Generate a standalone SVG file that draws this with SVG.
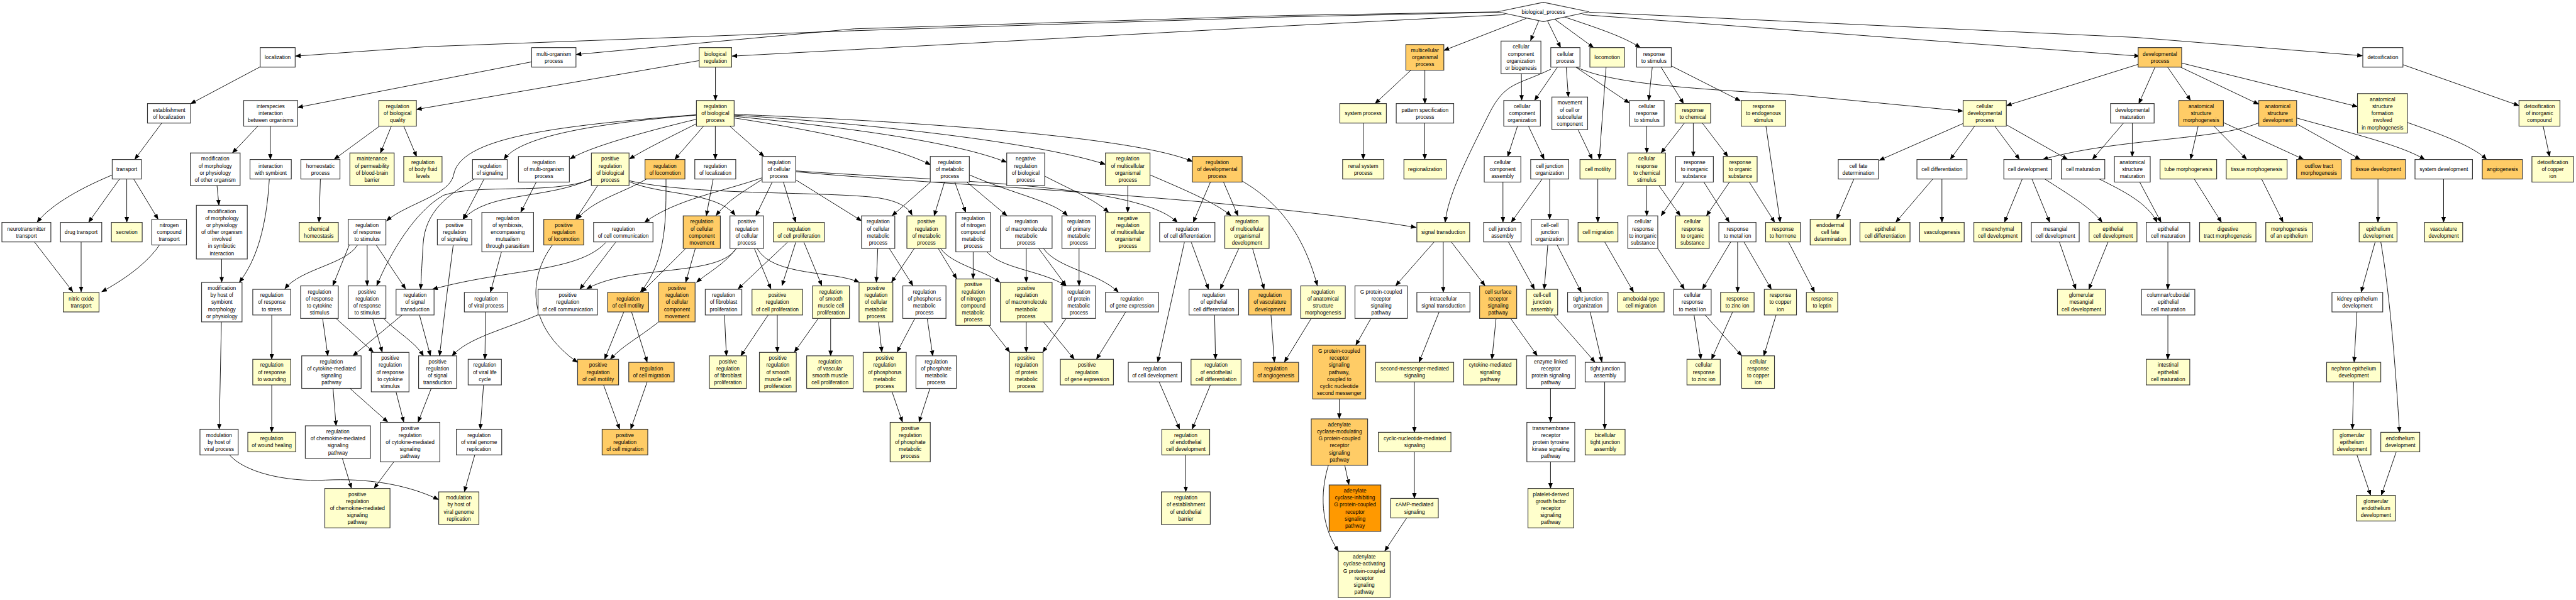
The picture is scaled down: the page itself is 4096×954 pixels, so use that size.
<svg xmlns="http://www.w3.org/2000/svg" width="4096" height="954" viewBox="0 0 4096 954">
<style>
.w{fill:#ffffff}.y{fill:#ffffcc}.o{fill:#ffcc66}.d{fill:#ff9900}
.w,.y,.o,.d{stroke:#333333;stroke-width:1.8}
text{font-family:"Liberation Sans",Arial,sans-serif;font-size:13px;text-anchor:middle;fill:#000000}
#edges path{fill:none;stroke:#000000;stroke-width:1.4;marker-end:url(#ah)}
</style>
<defs>
<marker id="ah" markerUnits="userSpaceOnUse" markerWidth="14" markerHeight="11" refX="13" refY="5.5" orient="auto" viewBox="0 0 14 11"><path d="M0,0 L14,5.5 L0,11 z" fill="#000000"/></marker>
</defs>
<rect x="0" y="0" width="4096" height="954" style="fill:#ffffff;stroke:none"/>
<g transform="scale(0.6469)">
<g id="edges">
<path d="M3690,30 L3160,41.5 L2100,75.5 L1050,114.7 L726,138"/>
<path d="M3690,29 L3160,38 L2100,70.8 L1416,134"/>
<path d="M3700,36 L3160,63.7 L2100,121.8 L1799,138"/>
<path d="M3752,45 L3549,124"/>
<path d="M3782,52 L3762,100"/>
<path d="M3804,52 L3836,117"/>
<path d="M3821,47 L3917,117"/>
<path d="M3846,42 C3930,70 3990,90 4032,117"/>
<path d="M3906,30 L4200,43.4 L5250,92 L5807,137"/>
<path d="M3890,36 L4200,59 L5259,138"/>
<path d="M640,164 L468.5,255"/>
<path d="M1307,152 L731.5,264"/>
<path d="M1718.6,149 L1023.5,269"/>
<path d="M1758.5,165 L1758.5,246.8"/>
<path d="M3467.7,172.7 L3379.8,254.8"/>
<path d="M3502.3,172.7 L3502.3,254.8"/>
<path d="M3739.5,181.2 L3740.2,246.8"/>
<path d="M3828,165.2 L3771.9,246.8"/>
<path d="M3849.7,165.2 L3855,238.3"/>
<path d="M3873.3,165.2 L4005.2,253.4"/>
<path d="M3812,170 C3730,210 3700,200 3660,280 C3600,400 3560,480 3552,546.5"/>
<path d="M3877,166 C3960,205 4150,218 4400,232 L4825,273"/>
<path d="M3947.7,165.2 L3930.8,391.7"/>
<path d="M4061.2,165.2 L4052.5,246.8"/>
<path d="M4082.9,165.2 L4138.3,254.8"/>
<path d="M4108,162 L4278,248"/>
<path d="M5256,158 L4931.5,259.6"/>
<path d="M5297,165.2 L5257,254.8"/>
<path d="M5328,165.2 L5384.4,246.8"/>
<path d="M5360,165.2 L5552,256.3"/>
<path d="M5362.4,155 L5794.6,262"/>
<path d="M5906.3,159 L6191.7,259.6"/>
<path d="M397.5,302.5 L331.2,391.7"/>
<path d="M634,310 L571.2,376.1"/>
<path d="M664.5,310 L664.5,391.7"/>
<path d="M933,310 L821.3,391.7"/>
<path d="M962,310 L935,376.1"/>
<path d="M992.4,310 L1024.1,385.1"/>
<path d="M1712,283 C1500,300 1280,330 1239,392"/>
<path d="M1712,293 C1600,320 1450,360 1401,391"/>
<path d="M1712,304 C1640,340 1580,370 1547,391"/>
<path d="M1729.4,310 L1658.4,391.7"/>
<path d="M1758.2,310 L1758.2,391.7"/>
<path d="M1793.6,310 L1878.1,384.6"/>
<path d="M1805,281 C2300,300 2800,340 2931,397"/>
<path d="M1805,283 C2150,305 2550,350 2717,404"/>
<path d="M1805,286 C2100,315 2350,350 2474.5,399"/>
<path d="M1805,290 C2000,320 2200,360 2287,405"/>
<path d="M1712,282 C1350,310 1130,340 1115,430 C1105,480 1000,500 950,543"/>
<path d="M3730,310 L3705.7,385.1"/>
<path d="M3757,310 L3795.6,391.7"/>
<path d="M3878.7,318.6 L3913.9,391.7"/>
<path d="M4047.8,310 L4047.8,376.1"/>
<path d="M4140.3,302.5 L4082.9,376.1"/>
<path d="M4162,302.5 L4162,385.1"/>
<path d="M4184.3,302.5 L4247.3,385.1"/>
<path d="M4340.6,310 L4375.8,546.5"/>
<path d="M4825.3,303.5 L4619.1,394"/>
<path d="M4853.7,310 L4793.6,391.7"/>
<path d="M4903,310 L4963.9,391.7"/>
<path d="M4933.5,307.7 L5082.2,391.7"/>
<path d="M5219.5,302.5 L5143,391.7"/>
<path d="M5241.1,302.5 L5241.1,385.1"/>
<path d="M5552,302 C5450,345 5200,340 5021,392"/>
<path d="M5403,310 L5384.4,391.7"/>
<path d="M5441.7,310 L5522.3,391.7"/>
<path d="M5465.1,301.2 L5662.3,391.7"/>
<path d="M5645,304.4 L5801.5,391.7"/>
<path d="M5645,290 C5750,320 5900,355 5960,392"/>
<path d="M5917,301 C6000,330 6080,360 6112,392"/>
<path d="M6251,310 L6266.9,385.1"/>
<path d="M3350.8,302.5 L3350.8,391.7"/>
<path d="M3502,302.5 L3502,391.7"/>
<path d="M276,430 C180,470 120,510 91,546.5"/>
<path d="M294,439.8 L217.7,546.5"/>
<path d="M311.6,439.8 L311.6,546.5"/>
<path d="M328.5,439.8 L388.7,539"/>
<path d="M533.4,455.9 L538.1,504.5"/>
<path d="M662,440 C655,560 630,640 588,694"/>
<path d="M787.5,439.8 L784.2,546.5"/>
<path d="M1190,439.8 L1137.9,539"/>
<path d="M1166,440 C1100,480 1045,520 1040,600 C1037,650 1035,690 1034,711"/>
<path d="M1454,441 C1350,480 1180,450 1090,480 C1020,520 960,620 926,702"/>
<path d="M1454,439 C1350,490 1200,470 1138,539"/>
<path d="M1469.1,455.9 L1415,539"/>
<path d="M1546,446 C1620,480 1760,470 1807,529"/>
<path d="M1546,444 C1700,480 2000,470 2150,485 C2200,492 2230,505 2242,529"/>
<path d="M1589,440 C1530,475 1460,490 1418,539"/>
<path d="M1637,440 C1637,530 1640,640 1574,718"/>
<path d="M1753,439.8 L1736.1,530.5"/>
<path d="M1318.4,447 L1279.8,522"/>
<path d="M1873,437 C1780,470 1660,490 1584,547"/>
<path d="M1873,441 C1830,470 1790,490 1760,530"/>
<path d="M1898.4,447 L1857.8,530.5"/>
<path d="M1925.4,447 L1955.9,546.5"/>
<path d="M1955.9,442 L2117.6,542.7"/>
<path d="M1956,420 C2300,445 2800,450 2894,547"/>
<path d="M1956,422 C2300,455 3000,480 3481,559"/>
<path d="M2287.9,447 L2192.6,530.5"/>
<path d="M2321.7,447 L2296,530.5"/>
<path d="M2346.7,447 L2373.8,522"/>
<path d="M2375.8,447 L2475.2,530.5"/>
<path d="M2383,430 C2500,480 2590,495 2624,530.5"/>
<path d="M2568,433 C2640,470 2690,490 2725,522"/>
<path d="M2772,456 L2772,522"/>
<path d="M2827,430 C2920,470 2990,500 3026,530.5"/>
<path d="M2975.4,447 L2932.8,546.5"/>
<path d="M3007.2,447 L3043,530.5"/>
<path d="M3053,445 C3130,490 3200,560 3238,702"/>
<path d="M3694.2,447 L3694.2,546.5"/>
<path d="M3790.8,439.8 L3714.5,546.5"/>
<path d="M3809,439.8 L3809,539"/>
<path d="M3927.4,439.8 L3927.4,546.5"/>
<path d="M4047.8,456 L4047.8,530.5"/>
<path d="M4077.5,456 L4130.2,530.5"/>
<path d="M4140.3,447 L4082.9,530.5"/>
<path d="M4187.7,447 L4250.7,546.5"/>
<path d="M4251.4,447 L4194.4,530.5"/>
<path d="M4299.4,447 L4362.2,546.5"/>
<path d="M4556.9,439.8 L4514.3,539"/>
<path d="M4751,439.8 L4659.7,546.5"/>
<path d="M4773.2,439.8 L4773.2,546.5"/>
<path d="M4970.7,439.8 L4926.7,546.5"/>
<path d="M4994.4,439.8 L5038.3,546.5"/>
<path d="M5026,440 C5080,475 5140,510 5167,546.5"/>
<path d="M5160,440 C5220,470 5280,500 5302,546.5"/>
<path d="M5259,447 L5312,546.5"/>
<path d="M5393.4,439.8 L5460.3,546.5"/>
<path d="M5558.9,439.8 L5611.9,546.5"/>
<path d="M5845,439.8 L5845,546.5"/>
<path d="M6006.3,439.8 L6006.3,546.5"/>
<path d="M84.5,594.6 L179.1,717.3"/>
<path d="M199.4,594.6 L199.4,717.3"/>
<path d="M392,602 C360,650 300,690 250,717.3"/>
<path d="M544.9,636.6 L544.9,693.8"/>
<path d="M879,602 C850,650 740,660 700,710"/>
<path d="M858.5,602.2 L818,702.2"/>
<path d="M902.5,602.2 L902.5,702.2"/>
<path d="M924.8,602.2 L997.1,710.3"/>
<path d="M1114,602 L1097,735 L1080.4,874.7"/>
<path d="M1232.5,619.2 L1205.5,718.3"/>
<path d="M1358,602 C1300,680 1290,800 1420,891"/>
<path d="M1513.1,595.6 L1425.2,711.2"/>
<path d="M1489,596 C1420,670 1250,660 1063,711"/>
<path d="M1709.1,610.7 L1685.4,693.8"/>
<path d="M1685.4,610.7 L1577.3,718.3"/>
<path d="M1810,611 C1780,650 1740,670 1712,694"/>
<path d="M1807,614 C1760,680 1550,650 1442,710"/>
<path d="M1854.4,611.2 L1895,710.3"/>
<path d="M1861,611 C1900,680 2050,665 2112,694"/>
<path d="M1935.6,595.6 L1813.9,710.3"/>
<path d="M1955.9,595.6 L1922.1,702.2"/>
<path d="M1976.1,595.6 L2020.1,702.2"/>
<path d="M2157.5,610.7 L2154.1,693.8"/>
<path d="M2185.9,610.7 L2244,702.2"/>
<path d="M2247.4,610.7 L2191.3,693.8"/>
<path d="M2306.2,610.7 L2351.5,685.3"/>
<path d="M2312,611 C2340,650 2420,665 2458,694"/>
<path d="M2392,619.2 L2392,685.3"/>
<path d="M2426,619 C2460,660 2560,665 2620,702"/>
<path d="M2522.5,610.7 L2522.5,693.8"/>
<path d="M2553,610.7 L2620.5,702.2"/>
<path d="M2565,611 C2600,660 2700,670 2749,718.3"/>
<path d="M2652.3,610.7 L2652.3,702.2"/>
<path d="M2911.2,595.6 L2845.6,890.3"/>
<path d="M2928.1,595.6 L2970.7,711.2"/>
<path d="M3045,610.7 L2999.1,711.2"/>
<path d="M3078.8,610.7 L3107.2,711.2"/>
<path d="M3525.2,594.6 L3430.5,702.2"/>
<path d="M3547.5,594.6 L3547.5,718.3"/>
<path d="M3567.1,594.6 L3650.2,702.2"/>
<path d="M3707.7,594.6 L3771.9,711.2"/>
<path d="M3804.4,602.2 L3795.6,711.2"/>
<path d="M3827.4,602.2 L3886.8,718.3"/>
<path d="M3944.3,594.6 L4015.3,718.3"/>
<path d="M4074.8,610.7 L4140.3,711.2"/>
<path d="M4254.1,594.6 L4184.3,711.2"/>
<path d="M4271,594.6 L4271,718.3"/>
<path d="M4286.5,594.6 L4354.1,711.2"/>
<path d="M4396,594.6 L4460.3,718.3"/>
<path d="M5061.9,594.6 L5102.5,711.2"/>
<path d="M5181.6,594.6 L5134.2,711.2"/>
<path d="M5328.6,594.6 L5328.6,711.2"/>
<path d="M5838.1,594.6 L5803.6,718.3"/>
<path d="M5852,595 C5870,700 5885,850 5898,1062.5"/>
<path d="M667.9,774.2 L667.9,883.2"/>
<path d="M793,782.7 L805.8,874.7"/>
<path d="M826.1,782.7 L918,865.7"/>
<path d="M916,782.7 L939.6,865.7"/>
<path d="M943,783 C980,820 1020,840 1041,875"/>
<path d="M988.3,774.2 L867.3,874.7"/>
<path d="M1031,774.2 L1058.1,874.7"/>
<path d="M1322,774 C1240,810 1150,830 1111,875"/>
<path d="M1193.3,766.6 L1192,883.2"/>
<path d="M1533.4,766.6 L1486,883.2"/>
<path d="M1552.3,766.6 L1590.8,890.3"/>
<path d="M1618,792 C1570,830 1530,850 1500,883"/>
<path d="M1780.8,774.2 L1785.5,874.7"/>
<path d="M1888.2,774.2 L1820.7,874.7"/>
<path d="M1910.6,774.2 L1910.6,865.7"/>
<path d="M2011.3,782.7 L1952.5,865.7"/>
<path d="M2041.7,782.7 L2041.7,874.7"/>
<path d="M2159.5,791.6 L2167.6,865.7"/>
<path d="M2248.7,782.7 L2204.8,865.7"/>
<path d="M2279.1,782.7 L2292.7,874.7"/>
<path d="M2430,799.7 L2482,865.7"/>
<path d="M2522.5,791.6 L2522.5,865.7"/>
<path d="M2565.1,791.6 L2640.8,883.2"/>
<path d="M2620.5,782.7 L2563,865.7"/>
<path d="M2767.2,766.6 L2694.9,883.2"/>
<path d="M2985.6,774.2 L2987.6,883.2"/>
<path d="M3124.1,774.2 L3132.3,890.3"/>
<path d="M3223,782.7 L3156.8,890.3"/>
<path d="M3369.7,782.7 L3332.5,848.3"/>
<path d="M3537.4,766.6 L3488,890.3"/>
<path d="M3677.3,782.7 L3667.1,883.2"/>
<path d="M3713.1,782.7 L3778.7,874.7"/>
<path d="M3819.2,774.2 L3920.6,890.3"/>
<path d="M3908.5,766.6 L3937.5,890.3"/>
<path d="M4164,774.2 L4180.9,883.2"/>
<path d="M4191.1,774.2 L4281.1,874.7"/>
<path d="M4258.8,766.6 L4206.8,883.2"/>
<path d="M4365.6,774.2 L4335.2,874.7"/>
<path d="M5328.6,774.2 L5328.6,883.2"/>
<path d="M5793.3,766.6 L5786.4,890.3"/>
<path d="M667.9,945.5 L667.9,1062.5"/>
<path d="M818.6,954.5 L826.1,1046.5"/>
<path d="M859.9,954.5 L953.2,1037.5"/>
<path d="M973.4,963 L992.4,1037.5"/>
<path d="M1060,954.5 L1027.6,1037.5"/>
<path d="M544.2,791.6 L538.8,1055"/>
<path d="M1188.6,945.5 L1180.5,1055"/>
<path d="M1483.3,945.5 L1523.2,1055"/>
<path d="M1590.8,938.4 L1550.2,1055"/>
<path d="M2192.6,963 L2218.3,1037.5"/>
<path d="M2285.9,954.5 L2258.9,1037.5"/>
<path d="M2849,938.4 L2899.7,1055"/>
<path d="M2975.4,945.5 L2930.1,1055"/>
<path d="M3292,980.4 L3292,1029"/>
<path d="M3476.5,938.4 L3476.5,1062.5"/>
<path d="M3811.1,954.5 L3811.1,1037.5"/>
<path d="M3944.3,938.4 L3944.3,1055"/>
<path d="M5785,938.4 L5782.2,1055"/>
<path d="M841.6,1126.7 L863.9,1200.3"/>
<path d="M968,1135.2 L919.4,1200.3"/>
<path d="M564,1118 C600,1160 700,1185 800,1180 C900,1175 1000,1190 1078,1228"/>
<path d="M1167,1118.2 L1141.3,1208.8"/>
<path d="M2914.6,1118.2 L2914.6,1208.8"/>
<path d="M3305.5,1143.7 L3315.6,1191.4"/>
<path d="M3265,1144 C3245,1210 3245,1290 3290,1355"/>
<path d="M3476.5,1110.7 L3476.5,1224.9"/>
<path d="M3457.6,1273 L3403.5,1354.7"/>
<path d="M3811.1,1135.2 L3811.1,1200.3"/>
<path d="M5793.3,1118.2 L5827,1217.3"/>
<path d="M5889.8,1110.7 L5853.2,1217.3"/>
</g>
<g id="bp"><polygon class="w" points="3681,29 3793.6,5.7 3906,29 3793.6,53"/><text x="3793.6" y="33.6">biological_process</text></g>
<g id="loc" transform="translate(682.5,141)"><rect class="w" x="-43" y="-24" width="86" height="48"/><text><tspan x="0" y="4.6">localization</tspan></text></g>
<g id="mop" transform="translate(1361.3,141)"><rect class="w" x="-54.4" y="-24" width="108.8" height="48"/><text><tspan x="0" y="-4.05">multi-organism</tspan><tspan x="0" y="13.25">process</tspan></text></g>
<g id="breg" transform="translate(1758.5,141)"><rect class="y" x="-39.9" y="-24" width="79.8" height="48"/><text><tspan x="0" y="-4.05">biological</tspan><tspan x="0" y="13.25">regulation</tspan></text></g>
<g id="mcop" transform="translate(3502.3,141)"><rect class="o" x="-46.7" y="-31.5" width="93.3" height="63"/><text><tspan x="0" y="-12.7">multicellular</tspan><tspan x="0" y="4.6">organismal</tspan><tspan x="0" y="21.9">process</tspan></text></g>
<g id="ccob" transform="translate(3738.5,141)"><rect class="w" x="-49" y="-40" width="98" height="80"/><text><tspan x="0" y="-21.35">cellular</tspan><tspan x="0" y="-4.05">component</tspan><tspan x="0" y="13.25">organization</tspan><tspan x="0" y="30.55">or biogenesis</tspan></text></g>
<g id="cp" transform="translate(3847.7,141)"><rect class="w" x="-35.9" y="-24" width="71.7" height="48"/><text><tspan x="0" y="-4.05">cellular</tspan><tspan x="0" y="13.25">process</tspan></text></g>
<g id="locom" transform="translate(3950.5,141)"><rect class="y" x="-42.6" y="-24" width="85.1" height="48"/><text><tspan x="0" y="4.6">locomotion</tspan></text></g>
<g id="rs" transform="translate(4065.4,141)"><rect class="w" x="-42.6" y="-24" width="85.2" height="48"/><text><tspan x="0" y="-4.05">response</tspan><tspan x="0" y="13.25">to stimulus</tspan></text></g>
<g id="dp" transform="translate(5309,141)"><rect class="o" x="-53.5" y="-24" width="106.9" height="48"/><text><tspan x="0" y="-4.05">developmental</tspan><tspan x="0" y="13.25">process</tspan></text></g>
<g id="detox" transform="translate(5857,141)"><rect class="w" x="-49.3" y="-24" width="98.6" height="48"/><text><tspan x="0" y="4.6">detoxification</tspan></text></g>
<g id="eloc" transform="translate(415.5,278.5)"><rect class="w" x="-53" y="-24" width="106.1" height="48"/><text><tspan x="0" y="-4.05">establishment</tspan><tspan x="0" y="13.25">of localization</tspan></text></g>
<g id="iibo" transform="translate(665.3,278.5)"><rect class="w" x="-66.3" y="-31.5" width="132.5" height="63"/><text><tspan x="0" y="-12.7">interspecies</tspan><tspan x="0" y="4.6">interaction</tspan><tspan x="0" y="21.9">between organisms</tspan></text></g>
<g id="rbq" transform="translate(977.3,278.5)"><rect class="y" x="-46.3" y="-31.5" width="92.5" height="63"/><text><tspan x="0" y="-12.7">regulation</tspan><tspan x="0" y="4.6">of biological</tspan><tspan x="0" y="21.9">quality</tspan></text></g>
<g id="rbp" transform="translate(1758.2,278.5)"><rect class="y" x="-46.4" y="-31.5" width="92.7" height="63"/><text><tspan x="0" y="-12.7">regulation</tspan><tspan x="0" y="4.6">of biological</tspan><tspan x="0" y="21.9">process</tspan></text></g>
<g id="sysp" transform="translate(3350.5,278.5)"><rect class="y" x="-57.2" y="-24" width="114.3" height="48"/><text><tspan x="0" y="4.6">system process</tspan></text></g>
<g id="pspec" transform="translate(3502.6,278.5)"><rect class="w" x="-70.7" y="-24" width="141.3" height="48"/><text><tspan x="0" y="-4.05">pattern specification</tspan><tspan x="0" y="13.25">process</tspan></text></g>
<g id="cco" transform="translate(3741.2,278.5)"><rect class="w" x="-45" y="-31.5" width="90" height="63"/><text><tspan x="0" y="-12.7">cellular</tspan><tspan x="0" y="4.6">component</tspan><tspan x="0" y="21.9">organization</tspan></text></g>
<g id="mocsc" transform="translate(3858.5,278.5)"><rect class="w" x="-44" y="-40" width="87.9" height="80"/><text><tspan x="0" y="-21.35">movement</tspan><tspan x="0" y="-4.05">of cell or</tspan><tspan x="0" y="13.25">subcellular</tspan><tspan x="0" y="30.55">component</tspan></text></g>
<g id="crs" transform="translate(4047.8,278.5)"><rect class="w" x="-42.6" y="-31.5" width="85.2" height="63"/><text><tspan x="0" y="-12.7">cellular</tspan><tspan x="0" y="4.6">response</tspan><tspan x="0" y="21.9">to stimulus</tspan></text></g>
<g id="rchem" transform="translate(4161,278.5)"><rect class="y" x="-43.6" y="-24" width="87.2" height="48"/><text><tspan x="0" y="-4.05">response</tspan><tspan x="0" y="13.25">to chemical</tspan></text></g>
<g id="res" transform="translate(4334.6,278.5)"><rect class="y" x="-54.8" y="-31.5" width="109.5" height="63"/><text><tspan x="0" y="-12.7">response</tspan><tspan x="0" y="4.6">to endogenous</tspan><tspan x="0" y="21.9">stimulus</tspan></text></g>
<g id="cdp" transform="translate(4878.4,278.5)"><rect class="y" x="-53.1" y="-31.5" width="106.2" height="63"/><text><tspan x="0" y="-12.7">cellular</tspan><tspan x="0" y="4.6">developmental</tspan><tspan x="0" y="21.9">process</tspan></text></g>
<g id="dmat" transform="translate(5241.3,278.5)"><rect class="w" x="-53.6" y="-24" width="107.1" height="48"/><text><tspan x="0" y="-4.05">developmental</tspan><tspan x="0" y="13.25">maturation</tspan></text></g>
<g id="asm" transform="translate(5410.3,278.5)"><rect class="o" x="-54.8" y="-31.5" width="109.6" height="63"/><text><tspan x="0" y="-12.7">anatomical</tspan><tspan x="0" y="4.6">structure</tspan><tspan x="0" y="21.9">morphogenesis</tspan></text></g>
<g id="asd" transform="translate(5598.5,278.5)"><rect class="o" x="-46.5" y="-31.5" width="93" height="63"/><text><tspan x="0" y="-12.7">anatomical</tspan><tspan x="0" y="4.6">structure</tspan><tspan x="0" y="21.9">development</tspan></text></g>
<g id="asfim" transform="translate(5856,278.5)"><rect class="y" x="-61.4" y="-48.5" width="122.7" height="97"/><text><tspan x="0" y="-30">anatomical</tspan><tspan x="0" y="-12.7">structure</tspan><tspan x="0" y="4.6">formation</tspan><tspan x="0" y="21.9">involved</tspan><tspan x="0" y="39.2">in morphogenesis</tspan></text></g>
<g id="doic" transform="translate(6242,278.5)"><rect class="y" x="-50.4" y="-31.5" width="100.7" height="63"/><text><tspan x="0" y="-12.7">detoxification</tspan><tspan x="0" y="4.6">of inorganic</tspan><tspan x="0" y="21.9">compound</tspan></text></g>
<g id="transport" transform="translate(311.7,416)"><rect class="w" x="-35.9" y="-24" width="71.7" height="48"/><text><tspan x="0" y="4.6">transport</tspan></text></g>
<g id="mmpoo" transform="translate(529,416)"><rect class="w" x="-61.2" y="-40" width="122.4" height="80"/><text><tspan x="0" y="-21.35">modification</tspan><tspan x="0" y="-4.05">of morphology</tspan><tspan x="0" y="13.25">or physiology</tspan><tspan x="0" y="30.55">of other organism</tspan></text></g>
<g id="iws" transform="translate(665.3,416)"><rect class="w" x="-50.8" y="-24" width="101.5" height="48"/><text><tspan x="0" y="-4.05">interaction</tspan><tspan x="0" y="13.25">with symbiont</tspan></text></g>
<g id="homeo" transform="translate(787.6,416)"><rect class="w" x="-48" y="-24" width="96" height="48"/><text><tspan x="0" y="-4.05">homeostatic</tspan><tspan x="0" y="13.25">process</tspan></text></g>
<g id="mpbbb" transform="translate(914.4,416)"><rect class="y" x="-54.4" y="-40" width="108.8" height="80"/><text><tspan x="0" y="-21.35">maintenance</tspan><tspan x="0" y="-4.05">of permeability</tspan><tspan x="0" y="13.25">of blood-brain</tspan><tspan x="0" y="30.55">barrier</tspan></text></g>
<g id="rbfl" transform="translate(1039.5,416)"><rect class="y" x="-47.1" y="-31.5" width="94.1" height="63"/><text><tspan x="0" y="-12.7">regulation</tspan><tspan x="0" y="4.6">of body fluid</tspan><tspan x="0" y="21.9">levels</tspan></text></g>
<g id="rsig" transform="translate(1204.1,416)"><rect class="w" x="-42.6" y="-24" width="85.2" height="48"/><text><tspan x="0" y="-4.05">regulation</tspan><tspan x="0" y="13.25">of signaling</tspan></text></g>
<g id="rmop" transform="translate(1337,416)"><rect class="w" x="-62.6" y="-31.5" width="125.1" height="63"/><text><tspan x="0" y="-12.7">regulation</tspan><tspan x="0" y="4.6">of multi-organism</tspan><tspan x="0" y="21.9">process</tspan></text></g>
<g id="prbp" transform="translate(1499.9,416)"><rect class="y" x="-46.3" y="-40" width="92.6" height="80"/><text><tspan x="0" y="-21.35">positive</tspan><tspan x="0" y="-4.05">regulation</tspan><tspan x="0" y="13.25">of biological</tspan><tspan x="0" y="30.55">process</tspan></text></g>
<g id="rloc" transform="translate(1634.5,416)"><rect class="o" x="-49.1" y="-24" width="98.1" height="48"/><text><tspan x="0" y="-4.05">regulation</tspan><tspan x="0" y="13.25">of locomotion</tspan></text></g>
<g id="rlz" transform="translate(1758.2,416)"><rect class="w" x="-50.4" y="-24" width="100.7" height="48"/><text><tspan x="0" y="-4.05">regulation</tspan><tspan x="0" y="13.25">of localization</tspan></text></g>
<g id="rcp" transform="translate(1914.7,416)"><rect class="w" x="-41.3" y="-31.5" width="82.5" height="63"/><text><tspan x="0" y="-12.7">regulation</tspan><tspan x="0" y="4.6">of cellular</tspan><tspan x="0" y="21.9">process</tspan></text></g>
<g id="rmp" transform="translate(2334.6,416)"><rect class="w" x="-48" y="-31.5" width="96" height="63"/><text><tspan x="0" y="-12.7">regulation</tspan><tspan x="0" y="4.6">of metabolic</tspan><tspan x="0" y="21.9">process</tspan></text></g>
<g id="nrbp" transform="translate(2521.2,416)"><rect class="w" x="-46.7" y="-40" width="93.3" height="80"/><text><tspan x="0" y="-21.35">negative</tspan><tspan x="0" y="-4.05">regulation</tspan><tspan x="0" y="13.25">of biological</tspan><tspan x="0" y="30.55">process</tspan></text></g>
<g id="rmoop" transform="translate(2772,416)"><rect class="y" x="-54.8" y="-40" width="109.5" height="80"/><text><tspan x="0" y="-21.35">regulation</tspan><tspan x="0" y="-4.05">of multicellular</tspan><tspan x="0" y="13.25">organismal</tspan><tspan x="0" y="30.55">process</tspan></text></g>
<g id="rdp" transform="translate(2992,416)"><rect class="o" x="-61.2" y="-31.5" width="122.3" height="63"/><text><tspan x="0" y="-12.7">regulation</tspan><tspan x="0" y="4.6">of developmental</tspan><tspan x="0" y="21.9">process</tspan></text></g>
<g id="rsp" transform="translate(3350.8,416)"><rect class="y" x="-50.7" y="-24" width="101.4" height="48"/><text><tspan x="0" y="-4.05">renal system</tspan><tspan x="0" y="13.25">process</tspan></text></g>
<g id="regio" transform="translate(3502.9,416)"><rect class="y" x="-52.1" y="-24" width="104.1" height="48"/><text><tspan x="0" y="4.6">regionalization</tspan></text></g>
<g id="cca" transform="translate(3693.2,416)"><rect class="w" x="-45" y="-31.5" width="90" height="63"/><text><tspan x="0" y="-12.7">cellular</tspan><tspan x="0" y="4.6">component</tspan><tspan x="0" y="21.9">assembly</tspan></text></g>
<g id="cjo" transform="translate(3809.1,416)"><rect class="w" x="-46.7" y="-24" width="93.3" height="48"/><text><tspan x="0" y="-4.05">cell junction</tspan><tspan x="0" y="13.25">organization</tspan></text></g>
<g id="cmot" transform="translate(3927.5,416)"><rect class="y" x="-44" y="-24" width="87.9" height="48"/><text><tspan x="0" y="4.6">cell motility</tspan></text></g>
<g id="crcs" transform="translate(4047.5,416)"><rect class="y" x="-46.4" y="-40" width="92.7" height="80"/><text><tspan x="0" y="-21.35">cellular</tspan><tspan x="0" y="-4.05">response</tspan><tspan x="0" y="13.25">to chemical</tspan><tspan x="0" y="30.55">stimulus</tspan></text></g>
<g id="ris" transform="translate(4165.1,416)"><rect class="w" x="-46.4" y="-31.5" width="92.7" height="63"/><text><tspan x="0" y="-12.7">response</tspan><tspan x="0" y="4.6">to inorganic</tspan><tspan x="0" y="21.9">substance</tspan></text></g>
<g id="ros" transform="translate(4277.4,416)"><rect class="y" x="-41.6" y="-31.5" width="83.2" height="63"/><text><tspan x="0" y="-12.7">response</tspan><tspan x="0" y="4.6">to organic</tspan><tspan x="0" y="21.9">substance</tspan></text></g>
<g id="cfd" transform="translate(4567.8,416)"><rect class="w" x="-49.4" y="-24" width="98.7" height="48"/><text><tspan x="0" y="-4.05">cell fate</tspan><tspan x="0" y="13.25">determination</tspan></text></g>
<g id="cdiff" transform="translate(4773.3,416)"><rect class="w" x="-61.5" y="-24" width="123" height="48"/><text><tspan x="0" y="4.6">cell differentiation</tspan></text></g>
<g id="cdev" transform="translate(4984.2,416)"><rect class="w" x="-58.8" y="-24" width="117.6" height="48"/><text><tspan x="0" y="4.6">cell development</tspan></text></g>
<g id="cmat" transform="translate(5120.1,416)"><rect class="w" x="-53.4" y="-24" width="106.8" height="48"/><text><tspan x="0" y="4.6">cell maturation</tspan></text></g>
<g id="asmat" transform="translate(5241.2,416)"><rect class="w" x="-44" y="-31.5" width="88" height="63"/><text><tspan x="0" y="-12.7">anatomical</tspan><tspan x="0" y="4.6">structure</tspan><tspan x="0" y="21.9">maturation</tspan></text></g>
<g id="tubem" transform="translate(5378.9,416)"><rect class="y" x="-69.6" y="-24" width="139.2" height="48"/><text><tspan x="0" y="4.6">tube morphogenesis</tspan></text></g>
<g id="tissm" transform="translate(5546.8,416)"><rect class="y" x="-74.8" y="-24" width="149.6" height="48"/><text><tspan x="0" y="4.6">tissue morphogenesis</tspan></text></g>
<g id="otm" transform="translate(5699.8,416)"><rect class="o" x="-54.8" y="-24" width="109.6" height="48"/><text><tspan x="0" y="-4.05">outflow tract</tspan><tspan x="0" y="13.25">morphogenesis</tspan></text></g>
<g id="tissd" transform="translate(5845.7,416)"><rect class="o" x="-66.9" y="-24" width="133.7" height="48"/><text><tspan x="0" y="4.6">tissue development</tspan></text></g>
<g id="sysd" transform="translate(6006.7,416)"><rect class="w" x="-70.7" y="-24" width="141.3" height="48"/><text><tspan x="0" y="4.6">system development</tspan></text></g>
<g id="angio" transform="translate(6150.7,416)"><rect class="o" x="-49.3" y="-24" width="98.6" height="48"/><text><tspan x="0" y="4.6">angiogenesis</tspan></text></g>
<g id="doci" transform="translate(6274.5,416)"><rect class="y" x="-51.1" y="-31.5" width="102.1" height="63"/><text><tspan x="0" y="-12.7">detoxification</tspan><tspan x="0" y="4.6">of copper</tspan><tspan x="0" y="21.9">ion</tspan></text></g>
<g id="ntt" transform="translate(64.9,570.6)"><rect class="w" x="-60.2" y="-24" width="120.3" height="48"/><text><tspan x="0" y="-4.05">neurotransmitter</tspan><tspan x="0" y="13.25">transport</tspan></text></g>
<g id="drug" transform="translate(199.4,570.6)"><rect class="w" x="-50.7" y="-24" width="101.4" height="48"/><text><tspan x="0" y="4.6">drug transport</tspan></text></g>
<g id="secr" transform="translate(311.7,570.6)"><rect class="y" x="-37.9" y="-24" width="75.7" height="48"/><text><tspan x="0" y="4.6">secretion</tspan></text></g>
<g id="nct" transform="translate(415.8,570.6)"><rect class="w" x="-42.6" y="-31.5" width="85.2" height="63"/><text><tspan x="0" y="-12.7">nitrogen</tspan><tspan x="0" y="4.6">compound</tspan><tspan x="0" y="21.9">transport</tspan></text></g>
<g id="mmpsi" transform="translate(545.3,570.6)"><rect class="w" x="-62.6" y="-66" width="125.1" height="132"/><text><tspan x="0" y="-47.3">modification</tspan><tspan x="0" y="-30">of morphology</tspan><tspan x="0" y="-12.7">or physiology</tspan><tspan x="0" y="4.6">of other organism</tspan><tspan x="0" y="21.9">involved</tspan><tspan x="0" y="39.2">in symbiotic</tspan><tspan x="0" y="56.5">interaction</tspan></text></g>
<g id="chomeo" transform="translate(783.5,570.6)"><rect class="y" x="-48" y="-24" width="96" height="48"/><text><tspan x="0" y="-4.05">chemical</tspan><tspan x="0" y="13.25">homeostasis</tspan></text></g>
<g id="rrs" transform="translate(902.2,570.6)"><rect class="w" x="-46.3" y="-31.5" width="92.6" height="63"/><text><tspan x="0" y="-12.7">regulation</tspan><tspan x="0" y="4.6">of response</tspan><tspan x="0" y="21.9">to stimulus</tspan></text></g>
<g id="prsig" transform="translate(1117.3,570.6)"><rect class="w" x="-42.3" y="-31.5" width="84.5" height="63"/><text><tspan x="0" y="-12.7">positive</tspan><tspan x="0" y="4.6">regulation</tspan><tspan x="0" y="21.9">of signaling</tspan></text></g>
<g id="rsymb" transform="translate(1248,570.6)"><rect class="w" x="-63.6" y="-48.5" width="127.1" height="97"/><text><tspan x="0" y="-30">regulation</tspan><tspan x="0" y="-12.7">of symbiosis,</tspan><tspan x="0" y="4.6">encompassing</tspan><tspan x="0" y="21.9">mutualism</tspan><tspan x="0" y="39.2">through parasitism</tspan></text></g>
<g id="prloc" transform="translate(1385.7,570.6)"><rect class="o" x="-49.1" y="-31.5" width="98.1" height="63"/><text><tspan x="0" y="-12.7">positive</tspan><tspan x="0" y="4.6">regulation</tspan><tspan x="0" y="21.9">of locomotion</tspan></text></g>
<g id="rcc" transform="translate(1532,570.6)"><rect class="w" x="-73" y="-24" width="146" height="48"/><text><tspan x="0" y="-4.05">regulation</tspan><tspan x="0" y="13.25">of cell communication</tspan></text></g>
<g id="rccm" transform="translate(1725,570.6)"><rect class="o" x="-45.7" y="-40" width="91.3" height="80"/><text><tspan x="0" y="-21.35">regulation</tspan><tspan x="0" y="-4.05">of cellular</tspan><tspan x="0" y="13.25">component</tspan><tspan x="0" y="30.55">movement</tspan></text></g>
<g id="prcp" transform="translate(1835.5,570.6)"><rect class="w" x="-41.3" y="-40" width="82.5" height="80"/><text><tspan x="0" y="-21.35">positive</tspan><tspan x="0" y="-4.05">regulation</tspan><tspan x="0" y="13.25">of cellular</tspan><tspan x="0" y="30.55">process</tspan></text></g>
<g id="rcprol" transform="translate(1963.6,570.6)"><rect class="y" x="-62.6" y="-24" width="125.1" height="48"/><text><tspan x="0" y="-4.05">regulation</tspan><tspan x="0" y="13.25">of cell proliferation</tspan></text></g>
<g id="rcmp" transform="translate(2158.5,570.6)"><rect class="w" x="-40.9" y="-40" width="81.8" height="80"/><text><tspan x="0" y="-21.35">regulation</tspan><tspan x="0" y="-4.05">of cellular</tspan><tspan x="0" y="13.25">metabolic</tspan><tspan x="0" y="30.55">process</tspan></text></g>
<g id="prmp" transform="translate(2277.1,570.6)"><rect class="y" x="-48" y="-40" width="96" height="80"/><text><tspan x="0" y="-21.35">positive</tspan><tspan x="0" y="-4.05">regulation</tspan><tspan x="0" y="13.25">of metabolic</tspan><tspan x="0" y="30.55">process</tspan></text></g>
<g id="rncmp" transform="translate(2392,570.6)"><rect class="w" x="-42.6" y="-48.5" width="85.1" height="97"/><text><tspan x="0" y="-30">regulation</tspan><tspan x="0" y="-12.7">of nitrogen</tspan><tspan x="0" y="4.6">compound</tspan><tspan x="0" y="21.9">metabolic</tspan><tspan x="0" y="39.2">process</tspan></text></g>
<g id="rmmp" transform="translate(2522.5,570.6)"><rect class="w" x="-63.5" y="-40" width="127" height="80"/><text><tspan x="0" y="-21.35">regulation</tspan><tspan x="0" y="-4.05">of macromolecule</tspan><tspan x="0" y="13.25">metabolic</tspan><tspan x="0" y="30.55">process</tspan></text></g>
<g id="rpmp" transform="translate(2651.6,570.6)"><rect class="w" x="-41.3" y="-40" width="82.5" height="80"/><text><tspan x="0" y="-21.35">regulation</tspan><tspan x="0" y="-4.05">of primary</tspan><tspan x="0" y="13.25">metabolic</tspan><tspan x="0" y="30.55">process</tspan></text></g>
<g id="nrmop" transform="translate(2772,570.6)"><rect class="y" x="-54.8" y="-48.5" width="109.5" height="97"/><text><tspan x="0" y="-30">negative</tspan><tspan x="0" y="-12.7">regulation</tspan><tspan x="0" y="4.6">of multicellular</tspan><tspan x="0" y="21.9">organismal</tspan><tspan x="0" y="39.2">process</tspan></text></g>
<g id="rcd" transform="translate(2918.3,570.6)"><rect class="w" x="-68" y="-24" width="135.9" height="48"/><text><tspan x="0" y="-4.05">regulation</tspan><tspan x="0" y="13.25">of cell differentiation</tspan></text></g>
<g id="rmod" transform="translate(3065,570.6)"><rect class="y" x="-54.5" y="-40" width="108.9" height="80"/><text><tspan x="0" y="-21.35">regulation</tspan><tspan x="0" y="-4.05">of multicellular</tspan><tspan x="0" y="13.25">organismal</tspan><tspan x="0" y="30.55">development</tspan></text></g>
<g id="st" transform="translate(3547.5,570.6)"><rect class="y" x="-64.9" y="-24" width="129.8" height="48"/><text><tspan x="0" y="4.6">signal transduction</tspan></text></g>
<g id="cja" transform="translate(3692.8,570.6)"><rect class="w" x="-46" y="-24" width="91.9" height="48"/><text><tspan x="0" y="-4.05">cell junction</tspan><tspan x="0" y="13.25">assembly</tspan></text></g>
<g id="ccjo" transform="translate(3809.1,570.6)"><rect class="w" x="-45.3" y="-31.5" width="90.6" height="63"/><text><tspan x="0" y="-12.7">cell-cell</tspan><tspan x="0" y="4.6">junction</tspan><tspan x="0" y="21.9">organization</tspan></text></g>
<g id="cmig" transform="translate(3927.8,570.6)"><rect class="y" x="-49" y="-24" width="98" height="48"/><text><tspan x="0" y="4.6">cell migration</tspan></text></g>
<g id="cris" transform="translate(4038,570.6)"><rect class="w" x="-36.9" y="-40" width="73.7" height="80"/><text><tspan x="0" y="-21.35">cellular</tspan><tspan x="0" y="-4.05">response</tspan><tspan x="0" y="13.25">to inorganic</tspan><tspan x="0" y="30.55">substance</tspan></text></g>
<g id="cros" transform="translate(4160,570.6)"><rect class="y" x="-41.3" y="-40" width="82.5" height="80"/><text><tspan x="0" y="-21.35">cellular</tspan><tspan x="0" y="-4.05">response</tspan><tspan x="0" y="13.25">to organic</tspan><tspan x="0" y="30.55">substance</tspan></text></g>
<g id="rmi" transform="translate(4270.6,570.6)"><rect class="w" x="-45.7" y="-24" width="91.3" height="48"/><text><tspan x="0" y="-4.05">response</tspan><tspan x="0" y="13.25">to metal ion</tspan></text></g>
<g id="rhorm" transform="translate(4382.5,570.6)"><rect class="y" x="-42.6" y="-24" width="85.2" height="48"/><text><tspan x="0" y="-4.05">response</tspan><tspan x="0" y="13.25">to hormone</tspan></text></g>
<g id="ecfd" transform="translate(4498.8,570.6)"><rect class="y" x="-49.4" y="-31.5" width="98.7" height="63"/><text><tspan x="0" y="-12.7">endodermal</tspan><tspan x="0" y="4.6">cell fate</tspan><tspan x="0" y="21.9">determination</tspan></text></g>
<g id="ecdiff" transform="translate(4633.3,570.6)"><rect class="y" x="-61.6" y="-24" width="123.1" height="48"/><text><tspan x="0" y="-4.05">epithelial</tspan><tspan x="0" y="13.25">cell differentiation</tspan></text></g>
<g id="vasculo" transform="translate(4773.2,570.6)"><rect class="y" x="-54.8" y="-24" width="109.5" height="48"/><text><tspan x="0" y="4.6">vasculogenesis</tspan></text></g>
<g id="mescd" transform="translate(4910.5,570.6)"><rect class="y" x="-58.8" y="-24" width="117.6" height="48"/><text><tspan x="0" y="-4.05">mesenchymal</tspan><tspan x="0" y="13.25">cell development</tspan></text></g>
<g id="mesang" transform="translate(5051.8,570.6)"><rect class="w" x="-58.8" y="-24" width="117.6" height="48"/><text><tspan x="0" y="-4.05">mesangial</tspan><tspan x="0" y="13.25">cell development</tspan></text></g>
<g id="ecdev" transform="translate(5193.8,570.6)"><rect class="y" x="-58.8" y="-24" width="117.6" height="48"/><text><tspan x="0" y="-4.05">epithelial</tspan><tspan x="0" y="13.25">cell development</tspan></text></g>
<g id="ecm" transform="translate(5329,570.6)"><rect class="w" x="-53.5" y="-24" width="106.9" height="48"/><text><tspan x="0" y="-4.05">epithelial</tspan><tspan x="0" y="13.25">cell maturation</tspan></text></g>
<g id="dtm" transform="translate(5475.8,570.6)"><rect class="y" x="-69.3" y="-24" width="138.6" height="48"/><text><tspan x="0" y="-4.05">digestive</tspan><tspan x="0" y="13.25">tract morphogenesis</tspan></text></g>
<g id="moae" transform="translate(5626.4,570.6)"><rect class="y" x="-57.2" y="-24" width="114.4" height="48"/><text><tspan x="0" y="-4.05">morphogenesis</tspan><tspan x="0" y="13.25">of an epithelium</tspan></text></g>
<g id="epid" transform="translate(5845.3,570.6)"><rect class="y" x="-46.5" y="-24" width="93" height="48"/><text><tspan x="0" y="-4.05">epithelium</tspan><tspan x="0" y="13.25">development</tspan></text></g>
<g id="vascd" transform="translate(6006.3,570.6)"><rect class="y" x="-46.9" y="-24" width="93.8" height="48"/><text><tspan x="0" y="-4.05">vasculature</tspan><tspan x="0" y="13.25">development</tspan></text></g>
<g id="not" transform="translate(199.5,742.7)"><rect class="y" x="-44" y="-24" width="87.9" height="48"/><text><tspan x="0" y="-4.05">nitric oxide</tspan><tspan x="0" y="13.25">transport</tspan></text></g>
<g id="mbhsmp" transform="translate(545.2,742.7)"><rect class="w" x="-49.7" y="-48.5" width="99.4" height="97"/><text><tspan x="0" y="-30">modification</tspan><tspan x="0" y="-12.7">by host of</tspan><tspan x="0" y="4.6">symbiont</tspan><tspan x="0" y="21.9">morphology</tspan><tspan x="0" y="39.2">or physiology</tspan></text></g>
<g id="rrstress" transform="translate(668,742.7)"><rect class="w" x="-46.7" y="-31.5" width="93.3" height="63"/><text><tspan x="0" y="-12.7">regulation</tspan><tspan x="0" y="4.6">of response</tspan><tspan x="0" y="21.9">to stress</tspan></text></g>
<g id="rrcs" transform="translate(785.2,742.7)"><rect class="w" x="-46.3" y="-40" width="92.6" height="80"/><text><tspan x="0" y="-21.35">regulation</tspan><tspan x="0" y="-4.05">of response</tspan><tspan x="0" y="13.25">to cytokine</tspan><tspan x="0" y="30.55">stimulus</tspan></text></g>
<g id="prrs" transform="translate(902.2,742.7)"><rect class="w" x="-46.3" y="-40" width="92.6" height="80"/><text><tspan x="0" y="-21.35">positive</tspan><tspan x="0" y="-4.05">regulation</tspan><tspan x="0" y="13.25">of response</tspan><tspan x="0" y="30.55">to stimulus</tspan></text></g>
<g id="rst" transform="translate(1020.2,742.7)"><rect class="w" x="-46.7" y="-31.5" width="93.4" height="63"/><text><tspan x="0" y="-12.7">regulation</tspan><tspan x="0" y="4.6">of signal</tspan><tspan x="0" y="21.9">transduction</tspan></text></g>
<g id="rvp" transform="translate(1194.4,742.7)"><rect class="w" x="-53" y="-24" width="106.1" height="48"/><text><tspan x="0" y="-4.05">regulation</tspan><tspan x="0" y="13.25">of viral process</tspan></text></g>
<g id="prcc" transform="translate(1395.5,742.7)"><rect class="w" x="-73" y="-31.5" width="146.1" height="63"/><text><tspan x="0" y="-12.7">positive</tspan><tspan x="0" y="4.6">regulation</tspan><tspan x="0" y="21.9">of cell communication</tspan></text></g>
<g id="rcmot" transform="translate(1543.9,742.7)"><rect class="o" x="-50.4" y="-24" width="100.7" height="48"/><text><tspan x="0" y="-4.05">regulation</tspan><tspan x="0" y="13.25">of cell motility</tspan></text></g>
<g id="prccm" transform="translate(1663.9,742.7)"><rect class="o" x="-44.7" y="-48.5" width="89.3" height="97"/><text><tspan x="0" y="-30">positive</tspan><tspan x="0" y="-12.7">regulation</tspan><tspan x="0" y="4.6">of cellular</tspan><tspan x="0" y="21.9">component</tspan><tspan x="0" y="39.2">movement</tspan></text></g>
<g id="rfp" transform="translate(1778.5,742.7)"><rect class="w" x="-45" y="-31.5" width="89.9" height="63"/><text><tspan x="0" y="-12.7">regulation</tspan><tspan x="0" y="4.6">of fibroblast</tspan><tspan x="0" y="21.9">proliferation</tspan></text></g>
<g id="prcprol" transform="translate(1910.6,742.7)"><rect class="y" x="-62.2" y="-31.5" width="124.4" height="63"/><text><tspan x="0" y="-12.7">positive</tspan><tspan x="0" y="4.6">regulation</tspan><tspan x="0" y="21.9">of cell proliferation</tspan></text></g>
<g id="rsmcp" transform="translate(2042.5,742.7)"><rect class="y" x="-45.3" y="-40" width="90.6" height="80"/><text><tspan x="0" y="-21.35">regulation</tspan><tspan x="0" y="-4.05">of smooth</tspan><tspan x="0" y="13.25">muscle cell</tspan><tspan x="0" y="30.55">proliferation</tspan></text></g>
<g id="prcmp" transform="translate(2153.1,742.7)"><rect class="y" x="-41.6" y="-48.5" width="83.1" height="97"/><text><tspan x="0" y="-30">positive</tspan><tspan x="0" y="-12.7">regulation</tspan><tspan x="0" y="4.6">of cellular</tspan><tspan x="0" y="21.9">metabolic</tspan><tspan x="0" y="39.2">process</tspan></text></g>
<g id="rphosmp" transform="translate(2272.1,742.7)"><rect class="w" x="-53" y="-40" width="106.1" height="80"/><text><tspan x="0" y="-21.35">regulation</tspan><tspan x="0" y="-4.05">of phosphorus</tspan><tspan x="0" y="13.25">metabolic</tspan><tspan x="0" y="30.55">process</tspan></text></g>
<g id="prncmp" transform="translate(2392,742.7)"><rect class="y" x="-42.6" y="-57" width="85.1" height="114"/><text><tspan x="0" y="-38.65">positive</tspan><tspan x="0" y="-21.35">regulation</tspan><tspan x="0" y="-4.05">of nitrogen</tspan><tspan x="0" y="13.25">compound</tspan><tspan x="0" y="30.55">metabolic</tspan><tspan x="0" y="47.85">process</tspan></text></g>
<g id="prmmp" transform="translate(2522.5,742.7)"><rect class="y" x="-63.5" y="-48.5" width="127" height="97"/><text><tspan x="0" y="-30">positive</tspan><tspan x="0" y="-12.7">regulation</tspan><tspan x="0" y="4.6">of macromolecule</tspan><tspan x="0" y="21.9">metabolic</tspan><tspan x="0" y="39.2">process</tspan></text></g>
<g id="rprotmp" transform="translate(2651.6,742.7)"><rect class="w" x="-41.3" y="-40" width="82.5" height="80"/><text><tspan x="0" y="-21.35">regulation</tspan><tspan x="0" y="-4.05">of protein</tspan><tspan x="0" y="13.25">metabolic</tspan><tspan x="0" y="30.55">process</tspan></text></g>
<g id="rge" transform="translate(2782.5,742.7)"><rect class="w" x="-65.3" y="-24" width="130.5" height="48"/><text><tspan x="0" y="-4.05">regulation</tspan><tspan x="0" y="13.25">of gene expression</tspan></text></g>
<g id="recd" transform="translate(2983.6,742.7)"><rect class="w" x="-60.9" y="-31.5" width="121.7" height="63"/><text><tspan x="0" y="-12.7">regulation</tspan><tspan x="0" y="4.6">of epithelial</tspan><tspan x="0" y="21.9">cell differentiation</tspan></text></g>
<g id="rvd" transform="translate(3121.6,742.7)"><rect class="o" x="-52.2" y="-31.5" width="104.3" height="63"/><text><tspan x="0" y="-12.7">regulation</tspan><tspan x="0" y="4.6">of vasculature</tspan><tspan x="0" y="21.9">development</tspan></text></g>
<g id="rasm" transform="translate(3252,742.7)"><rect class="y" x="-54.8" y="-40" width="109.5" height="80"/><text><tspan x="0" y="-21.35">regulation</tspan><tspan x="0" y="-4.05">of anatomical</tspan><tspan x="0" y="13.25">structure</tspan><tspan x="0" y="30.55">morphogenesis</tspan></text></g>
<g id="gpcr" transform="translate(3394.8,742.7)"><rect class="w" x="-64.3" y="-40" width="128.5" height="80"/><text><tspan x="0" y="-21.35">G protein-coupled</tspan><tspan x="0" y="-4.05">receptor</tspan><tspan x="0" y="13.25">signaling</tspan><tspan x="0" y="30.55">pathway</tspan></text></g>
<g id="ist" transform="translate(3547.9,742.7)"><rect class="w" x="-65.3" y="-24" width="130.5" height="48"/><text><tspan x="0" y="-4.05">intracellular</tspan><tspan x="0" y="13.25">signal transduction</tspan></text></g>
<g id="csrsp" transform="translate(3682.4,742.7)"><rect class="o" x="-45.6" y="-40" width="91.2" height="80"/><text><tspan x="0" y="-21.35">cell surface</tspan><tspan x="0" y="-4.05">receptor</tspan><tspan x="0" y="13.25">signaling</tspan><tspan x="0" y="30.55">pathway</tspan></text></g>
<g id="ccja" transform="translate(3790.2,742.7)"><rect class="y" x="-38.5" y="-31.5" width="77" height="63"/><text><tspan x="0" y="-12.7">cell-cell</tspan><tspan x="0" y="4.6">junction</tspan><tspan x="0" y="21.9">assembly</tspan></text></g>
<g id="tjo" transform="translate(3902.8,742.7)"><rect class="w" x="-49.7" y="-24" width="99.4" height="48"/><text><tspan x="0" y="-4.05">tight junction</tspan><tspan x="0" y="13.25">organization</tspan></text></g>
<g id="atcm" transform="translate(4033.3,742.7)"><rect class="y" x="-57.2" y="-24" width="114.3" height="48"/><text><tspan x="0" y="-4.05">ameboidal-type</tspan><tspan x="0" y="13.25">cell migration</tspan></text></g>
<g id="crmi" transform="translate(4160,742.7)"><rect class="w" x="-46" y="-31.5" width="92" height="63"/><text><tspan x="0" y="-12.7">cellular</tspan><tspan x="0" y="4.6">response</tspan><tspan x="0" y="21.9">to metal ion</tspan></text></g>
<g id="rzi" transform="translate(4270.3,742.7)"><rect class="y" x="-41.2" y="-24" width="82.4" height="48"/><text><tspan x="0" y="-4.05">response</tspan><tspan x="0" y="13.25">to zinc ion</tspan></text></g>
<g id="rci" transform="translate(4376.2,742.7)"><rect class="y" x="-39.6" y="-31.5" width="79.1" height="63"/><text><tspan x="0" y="-12.7">response</tspan><tspan x="0" y="4.6">to copper</tspan><tspan x="0" y="21.9">ion</tspan></text></g>
<g id="rlep" transform="translate(4478.6,742.7)"><rect class="y" x="-38.6" y="-24" width="77.1" height="48"/><text><tspan x="0" y="-4.05">response</tspan><tspan x="0" y="13.25">to leptin</tspan></text></g>
<g id="gmcd" transform="translate(5116,742.7)"><rect class="y" x="-58.8" y="-31.5" width="117.6" height="63"/><text><tspan x="0" y="-12.7">glomerular</tspan><tspan x="0" y="4.6">mesangial</tspan><tspan x="0" y="21.9">cell development</tspan></text></g>
<g id="ccecm" transform="translate(5329.3,742.7)"><rect class="w" x="-65.5" y="-31.5" width="131" height="63"/><text><tspan x="0" y="-12.7">columnar/cuboidal</tspan><tspan x="0" y="4.6">epithelial</tspan><tspan x="0" y="21.9">cell maturation</tspan></text></g>
<g id="ked" transform="translate(5794.3,742.7)"><rect class="w" x="-62.4" y="-24" width="124.8" height="48"/><text><tspan x="0" y="-4.05">kidney epithelium</tspan><tspan x="0" y="13.25">development</tspan></text></g>
<g id="rrw" transform="translate(668,914.6)"><rect class="y" x="-46.7" y="-31.5" width="93.3" height="63"/><text><tspan x="0" y="-12.7">regulation</tspan><tspan x="0" y="4.6">of response</tspan><tspan x="0" y="21.9">to wounding</tspan></text></g>
<g id="rcmsp" transform="translate(814.6,914.6)"><rect class="w" x="-73" y="-40" width="146" height="80"/><text><tspan x="0" y="-21.35">regulation</tspan><tspan x="0" y="-4.05">of cytokine-mediated</tspan><tspan x="0" y="13.25">signaling</tspan><tspan x="0" y="30.55">pathway</tspan></text></g>
<g id="prrcs" transform="translate(959,914.6)"><rect class="w" x="-46.4" y="-48.5" width="92.7" height="97"/><text><tspan x="0" y="-30">positive</tspan><tspan x="0" y="-12.7">regulation</tspan><tspan x="0" y="4.6">of response</tspan><tspan x="0" y="21.9">to cytokine</tspan><tspan x="0" y="39.2">stimulus</tspan></text></g>
<g id="prst" transform="translate(1075.6,914.6)"><rect class="w" x="-46.7" y="-40" width="93.4" height="80"/><text><tspan x="0" y="-21.35">positive</tspan><tspan x="0" y="-4.05">regulation</tspan><tspan x="0" y="13.25">of signal</tspan><tspan x="0" y="30.55">transduction</tspan></text></g>
<g id="rvlc" transform="translate(1191.6,914.6)"><rect class="w" x="-40.9" y="-31.5" width="81.8" height="63"/><text><tspan x="0" y="-12.7">regulation</tspan><tspan x="0" y="4.6">of viral life</tspan><tspan x="0" y="21.9">cycle</tspan></text></g>
<g id="prcmot" transform="translate(1470.2,914.6)"><rect class="o" x="-50.4" y="-31.5" width="100.7" height="63"/><text><tspan x="0" y="-12.7">positive</tspan><tspan x="0" y="4.6">regulation</tspan><tspan x="0" y="21.9">of cell motility</tspan></text></g>
<g id="rcmig" transform="translate(1601.3,914.6)"><rect class="o" x="-55.8" y="-24" width="111.6" height="48"/><text><tspan x="0" y="-4.05">regulation</tspan><tspan x="0" y="13.25">of cell migration</tspan></text></g>
<g id="prfp" transform="translate(1789.3,914.6)"><rect class="y" x="-45.7" y="-40" width="91.3" height="80"/><text><tspan x="0" y="-21.35">positive</tspan><tspan x="0" y="-4.05">regulation</tspan><tspan x="0" y="13.25">of fibroblast</tspan><tspan x="0" y="30.55">proliferation</tspan></text></g>
<g id="prsmcp" transform="translate(1911.9,914.6)"><rect class="y" x="-45.3" y="-48.5" width="90.6" height="97"/><text><tspan x="0" y="-30">positive</tspan><tspan x="0" y="-12.7">regulation</tspan><tspan x="0" y="4.6">of smooth</tspan><tspan x="0" y="21.9">muscle cell</tspan><tspan x="0" y="39.2">proliferation</tspan></text></g>
<g id="rvsmcp" transform="translate(2040,914.6)"><rect class="y" x="-57.2" y="-40" width="114.3" height="80"/><text><tspan x="0" y="-21.35">regulation</tspan><tspan x="0" y="-4.05">of vascular</tspan><tspan x="0" y="13.25">smooth muscle</tspan><tspan x="0" y="30.55">cell proliferation</tspan></text></g>
<g id="prphosmp" transform="translate(2174.7,914.6)"><rect class="y" x="-53.1" y="-48.5" width="106.2" height="97"/><text><tspan x="0" y="-30">positive</tspan><tspan x="0" y="-12.7">regulation</tspan><tspan x="0" y="4.6">of phosphorus</tspan><tspan x="0" y="21.9">metabolic</tspan><tspan x="0" y="39.2">process</tspan></text></g>
<g id="rphatemp" transform="translate(2301.1,914.6)"><rect class="w" x="-49.7" y="-40" width="99.4" height="80"/><text><tspan x="0" y="-21.35">regulation</tspan><tspan x="0" y="-4.05">of phosphate</tspan><tspan x="0" y="13.25">metabolic</tspan><tspan x="0" y="30.55">process</tspan></text></g>
<g id="prprotmp" transform="translate(2522.6,914.6)"><rect class="y" x="-41.3" y="-48.5" width="82.5" height="97"/><text><tspan x="0" y="-30">positive</tspan><tspan x="0" y="-12.7">regulation</tspan><tspan x="0" y="4.6">of protein</tspan><tspan x="0" y="21.9">metabolic</tspan><tspan x="0" y="39.2">process</tspan></text></g>
<g id="prge" transform="translate(2671.6,914.6)"><rect class="y" x="-65.3" y="-31.5" width="130.5" height="63"/><text><tspan x="0" y="-12.7">positive</tspan><tspan x="0" y="4.6">regulation</tspan><tspan x="0" y="21.9">of gene expression</tspan></text></g>
<g id="rcdev" transform="translate(2838.6,914.6)"><rect class="w" x="-65.3" y="-24" width="130.5" height="48"/><text><tspan x="0" y="-4.05">regulation</tspan><tspan x="0" y="13.25">of cell development</tspan></text></g>
<g id="rendcd" transform="translate(2989,914.6)"><rect class="y" x="-61.5" y="-31.5" width="123" height="63"/><text><tspan x="0" y="-12.7">regulation</tspan><tspan x="0" y="4.6">of endothelial</tspan><tspan x="0" y="21.9">cell differentiation</tspan></text></g>
<g id="rangio" transform="translate(3136,914.6)"><rect class="o" x="-55.9" y="-24" width="111.7" height="48"/><text><tspan x="0" y="-4.05">regulation</tspan><tspan x="0" y="13.25">of angiogenesis</tspan></text></g>
<g id="gpcrcn" transform="translate(3291.7,914.6)"><rect class="o" x="-65.3" y="-66" width="130.5" height="132"/><text><tspan x="0" y="-47.3">G protein-coupled</tspan><tspan x="0" y="-30">receptor</tspan><tspan x="0" y="-12.7">signaling</tspan><tspan x="0" y="4.6">pathway,</tspan><tspan x="0" y="21.9">coupled to</tspan><tspan x="0" y="39.2">cyclic nucleotide</tspan><tspan x="0" y="56.5">second messenger</tspan></text></g>
<g id="smms" transform="translate(3477.2,914.6)"><rect class="y" x="-96" y="-24" width="192" height="48"/><text><tspan x="0" y="-4.05">second-messenger-mediated</tspan><tspan x="0" y="13.25">signaling</tspan></text></g>
<g id="cmsp" transform="translate(3662.8,914.6)"><rect class="y" x="-65.3" y="-31.5" width="130.5" height="63"/><text><tspan x="0" y="-12.7">cytokine-mediated</tspan><tspan x="0" y="4.6">signaling</tspan><tspan x="0" y="21.9">pathway</tspan></text></g>
<g id="elrpsp" transform="translate(3811.9,914.6)"><rect class="w" x="-60.2" y="-40" width="120.3" height="80"/><text><tspan x="0" y="-21.35">enzyme linked</tspan><tspan x="0" y="-4.05">receptor</tspan><tspan x="0" y="13.25">protein signaling</tspan><tspan x="0" y="30.55">pathway</tspan></text></g>
<g id="tja" transform="translate(3945.4,914.6)"><rect class="w" x="-49.1" y="-24" width="98.1" height="48"/><text><tspan x="0" y="-4.05">tight junction</tspan><tspan x="0" y="13.25">assembly</tspan></text></g>
<g id="crzi" transform="translate(4187.5,914.6)"><rect class="y" x="-41" y="-31.5" width="81.9" height="63"/><text><tspan x="0" y="-12.7">cellular</tspan><tspan x="0" y="4.6">response</tspan><tspan x="0" y="21.9">to zinc ion</tspan></text></g>
<g id="crci" transform="translate(4321.4,914.6)"><rect class="y" x="-40.3" y="-40" width="80.5" height="80"/><text><tspan x="0" y="-21.35">cellular</tspan><tspan x="0" y="-4.05">response</tspan><tspan x="0" y="13.25">to copper</tspan><tspan x="0" y="30.55">ion</tspan></text></g>
<g id="iecm" transform="translate(5329,914.6)"><rect class="y" x="-53.5" y="-31.5" width="106.9" height="63"/><text><tspan x="0" y="-12.7">intestinal</tspan><tspan x="0" y="4.6">epithelial</tspan><tspan x="0" y="21.9">cell maturation</tspan></text></g>
<g id="ned" transform="translate(5785.4,914.6)"><rect class="y" x="-66.6" y="-24" width="133.1" height="48"/><text><tspan x="0" y="-4.05">nephron epithelium</tspan><tspan x="0" y="13.25">development</tspan></text></g>
<g id="mbhvp" transform="translate(538.5,1086.6)"><rect class="w" x="-47" y="-31.5" width="93.9" height="63"/><text><tspan x="0" y="-12.7">modulation</tspan><tspan x="0" y="4.6">by host of</tspan><tspan x="0" y="21.9">viral process</tspan></text></g>
<g id="rwh" transform="translate(667.9,1086.6)"><rect class="y" x="-58.8" y="-24" width="117.6" height="48"/><text><tspan x="0" y="-4.05">regulation</tspan><tspan x="0" y="13.25">of wound healing</tspan></text></g>
<g id="rchmsp" transform="translate(830.5,1086.6)"><rect class="w" x="-80.1" y="-40" width="160.2" height="80"/><text><tspan x="0" y="-21.35">regulation</tspan><tspan x="0" y="-4.05">of chemokine-mediated</tspan><tspan x="0" y="13.25">signaling</tspan><tspan x="0" y="30.55">pathway</tspan></text></g>
<g id="prcmsp" transform="translate(1008,1086.6)"><rect class="w" x="-73" y="-48.5" width="146.1" height="97"/><text><tspan x="0" y="-30">positive</tspan><tspan x="0" y="-12.7">regulation</tspan><tspan x="0" y="4.6">of cytokine-mediated</tspan><tspan x="0" y="21.9">signaling</tspan><tspan x="0" y="39.2">pathway</tspan></text></g>
<g id="rvgr" transform="translate(1177.5,1086.6)"><rect class="w" x="-55.8" y="-31.5" width="111.5" height="63"/><text><tspan x="0" y="-12.7">regulation</tspan><tspan x="0" y="4.6">of viral genome</tspan><tspan x="0" y="21.9">replication</tspan></text></g>
<g id="prcmig" transform="translate(1536.1,1086.6)"><rect class="o" x="-56.1" y="-31.5" width="112.2" height="63"/><text><tspan x="0" y="-12.7">positive</tspan><tspan x="0" y="4.6">regulation</tspan><tspan x="0" y="21.9">of cell migration</tspan></text></g>
<g id="prphatemp" transform="translate(2237.3,1086.6)"><rect class="y" x="-49.4" y="-48.5" width="98.7" height="97"/><text><tspan x="0" y="-30">positive</tspan><tspan x="0" y="-12.7">regulation</tspan><tspan x="0" y="4.6">of phosphate</tspan><tspan x="0" y="21.9">metabolic</tspan><tspan x="0" y="39.2">process</tspan></text></g>
<g id="recdev" transform="translate(2914.6,1086.6)"><rect class="y" x="-58.8" y="-31.5" width="117.6" height="63"/><text><tspan x="0" y="-12.7">regulation</tspan><tspan x="0" y="4.6">of endothelial</tspan><tspan x="0" y="21.9">cell development</tspan></text></g>
<g id="acm" transform="translate(3292.3,1086.6)"><rect class="o" x="-69.3" y="-57" width="138.6" height="114"/><text><tspan x="0" y="-38.65">adenylate</tspan><tspan x="0" y="-21.35">cyclase-modulating</tspan><tspan x="0" y="-4.05">G protein-coupled</tspan><tspan x="0" y="13.25">receptor</tspan><tspan x="0" y="30.55">signaling</tspan><tspan x="0" y="47.85">pathway</tspan></text></g>
<g id="cnms" transform="translate(3477.2,1086.6)"><rect class="y" x="-89.2" y="-24" width="178.4" height="48"/><text><tspan x="0" y="-4.05">cyclic-nucleotide-mediated</tspan><tspan x="0" y="13.25">signaling</tspan></text></g>
<g id="trptksp" transform="translate(3811.9,1086.6)"><rect class="w" x="-58.9" y="-48.5" width="117.7" height="97"/><text><tspan x="0" y="-30">transmembrane</tspan><tspan x="0" y="-12.7">receptor</tspan><tspan x="0" y="4.6">protein tyrosine</tspan><tspan x="0" y="21.9">kinase signaling</tspan><tspan x="0" y="39.2">pathway</tspan></text></g>
<g id="btja" transform="translate(3945.4,1086.6)"><rect class="y" x="-49.1" y="-31.5" width="98.1" height="63"/><text><tspan x="0" y="-12.7">bicellular</tspan><tspan x="0" y="4.6">tight junction</tspan><tspan x="0" y="21.9">assembly</tspan></text></g>
<g id="ged" transform="translate(5781.2,1086.6)"><rect class="y" x="-46.5" y="-31.5" width="93" height="63"/><text><tspan x="0" y="-12.7">glomerular</tspan><tspan x="0" y="4.6">epithelium</tspan><tspan x="0" y="21.9">development</tspan></text></g>
<g id="endod" transform="translate(5899.8,1086.6)"><rect class="y" x="-47.9" y="-24" width="95.8" height="48"/><text><tspan x="0" y="-4.05">endothelium</tspan><tspan x="0" y="13.25">development</tspan></text></g>
<g id="prchmsp" transform="translate(878.5,1249)"><rect class="y" x="-80.1" y="-48.5" width="160.2" height="97"/><text><tspan x="0" y="-30">positive</tspan><tspan x="0" y="-12.7">regulation</tspan><tspan x="0" y="4.6">of chemokine-mediated</tspan><tspan x="0" y="21.9">signaling</tspan><tspan x="0" y="39.2">pathway</tspan></text></g>
<g id="mbhvgr" transform="translate(1127.8,1249)"><rect class="y" x="-49.4" y="-40" width="98.7" height="80"/><text><tspan x="0" y="-21.35">modulation</tspan><tspan x="0" y="-4.05">by host of</tspan><tspan x="0" y="13.25">viral genome</tspan><tspan x="0" y="30.55">replication</tspan></text></g>
<g id="reeb" transform="translate(2914.7,1249)"><rect class="y" x="-60.2" y="-40" width="120.3" height="80"/><text><tspan x="0" y="-21.35">regulation</tspan><tspan x="0" y="-4.05">of establishment</tspan><tspan x="0" y="13.25">of endothelial</tspan><tspan x="0" y="30.55">barrier</tspan></text></g>
<g id="aci" transform="translate(3330.6,1249)"><rect class="d" x="-63.6" y="-57" width="127.1" height="114"/><text><tspan x="0" y="-38.65">adenylate</tspan><tspan x="0" y="-21.35">cyclase-inhibiting</tspan><tspan x="0" y="-4.05">G protein-coupled</tspan><tspan x="0" y="13.25">receptor</tspan><tspan x="0" y="30.55">signaling</tspan><tspan x="0" y="47.85">pathway</tspan></text></g>
<g id="camp" transform="translate(3476.9,1249)"><rect class="y" x="-58.5" y="-24" width="116.9" height="48"/><text><tspan x="0" y="-4.05">cAMP-mediated</tspan><tspan x="0" y="13.25">signaling</tspan></text></g>
<g id="pdgf" transform="translate(3811.9,1249)"><rect class="y" x="-56.2" y="-48.5" width="112.3" height="97"/><text><tspan x="0" y="-30">platelet-derived</tspan><tspan x="0" y="-12.7">growth factor</tspan><tspan x="0" y="4.6">receptor</tspan><tspan x="0" y="21.9">signaling</tspan><tspan x="0" y="39.2">pathway</tspan></text></g>
<g id="gend" transform="translate(5839.8,1249)"><rect class="y" x="-47.9" y="-31.5" width="95.8" height="63"/><text><tspan x="0" y="-12.7">glomerular</tspan><tspan x="0" y="4.6">endothelium</tspan><tspan x="0" y="21.9">development</tspan></text></g>
<g id="aca" transform="translate(3353.2,1411.8)"><rect class="y" x="-63.9" y="-57" width="127.7" height="114"/><text><tspan x="0" y="-38.65">adenylate</tspan><tspan x="0" y="-21.35">cyclase-activating</tspan><tspan x="0" y="-4.05">G protein-coupled</tspan><tspan x="0" y="13.25">receptor</tspan><tspan x="0" y="30.55">signaling</tspan><tspan x="0" y="47.85">pathway</tspan></text></g>
</g>
</svg>
